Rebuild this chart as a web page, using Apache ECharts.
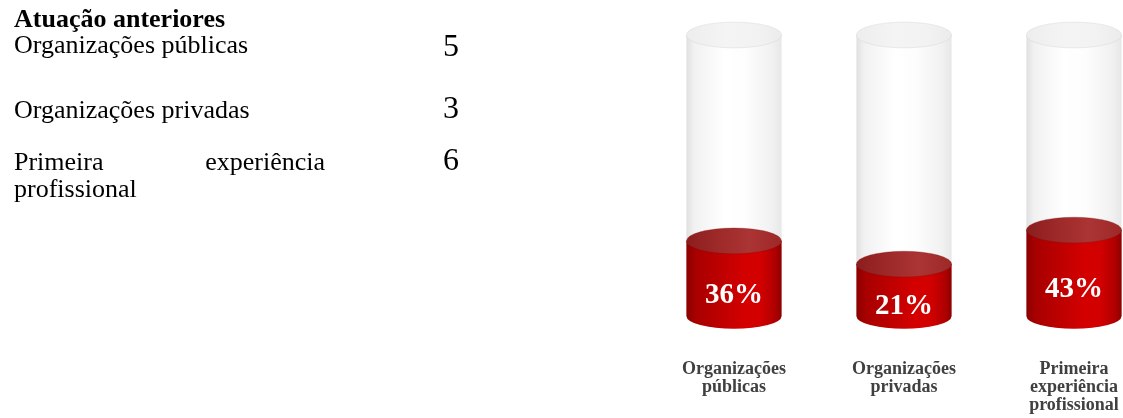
<!DOCTYPE html>
<html>
<head>
<meta charset="utf-8">
<script src="https://cdn.jsdelivr.net/npm/echarts@6/dist/echarts.min.js"></script>
<style>
  html, body { margin: 0; padding: 0; background: #ffffff; }
  #chart { width: 1123px; height: 418px; }
</style>
</head>
<body>
<div id="chart"></div>
<script>
// Share of previous work experience (percent of respondents)
const categories = ['Organizações\npúblicas', 'Organizações\nprivadas', 'Primeira\nexperiência\nprofissional'];
const shares = [36, 21, 43];

// Count table printed beside the chart
const tableTitle = 'Atuação anteriores';
const tableLabels = ['Organizações públicas', 'Organizações privadas', 'Primeira experiência profissional'];
const tableCounts = [5, 3, 6];

// Hidden value axis: the glass tubes span the whole range
const Y_MIN = -12.5;
const Y_MAX = 169;

const SERIF = '"Liberation Serif", "Times New Roman", serif';

// ---------- side table (justified text block) ----------
const TABLE_FONT = 26;
const COUNT_FONT = 32;
const colLeft = 14;
const colWidth = 311;
const countX = 451;
const titleBaseline = 29;
const rowBaselines = [55, 120, 172];
const wrapGap = 27;

const measureCtx = document.createElement('canvas').getContext('2d');
measureCtx.font = TABLE_FONT + 'px ' + SERIF;
const textWidth = s => measureCtx.measureText(s).width;

function wrapWords(text) {
  const lines = [];
  let cur = [];
  text.split(' ').forEach(w => {
    const trial = cur.concat(w).join(' ');
    if (cur.length && textWidth(trial) > colWidth) {
      lines.push(cur);
      cur = [w];
    } else {
      cur.push(w);
    }
  });
  if (cur.length) lines.push(cur);
  return lines;
}

// canvas 'middle' sits about 0.34em above the baseline for this face
const midFromBaseline = (baseline, size) => baseline - 0.3375 * size;

function textEl(str, x, baseline, size, weight, align) {
  return {
    type: 'text',
    silent: true,
    style: {
      text: str,
      x: x,
      y: midFromBaseline(baseline, size),
      align: align || 'left',
      verticalAlign: 'middle',
      fill: '#000000',
      font: (weight || 'normal') + ' ' + size + 'px ' + SERIF
    }
  };
}

const tableGraphics = [textEl(tableTitle, colLeft, titleBaseline, TABLE_FONT, 'bold')];
tableLabels.forEach((label, r) => {
  const lines = wrapWords(label);
  lines.forEach((words, li) => {
    const baseline = rowBaselines[r] + li * wrapGap;
    const isLast = li === lines.length - 1;
    if (isLast || words.length === 1) {
      tableGraphics.push(textEl(words.join(' '), colLeft, baseline, TABLE_FONT));
    } else {
      const widths = words.map(textWidth);
      const gap = (colWidth - widths.reduce((a, b) => a + b, 0)) / (words.length - 1);
      let x = colLeft;
      words.forEach((w, wi) => {
        tableGraphics.push(textEl(w, x, baseline, TABLE_FONT));
        x += widths[wi] + gap;
      });
    }
  });
  tableGraphics.push(textEl(String(tableCounts[r]), countX, rowBaselines[r] + 3 * (r === 0), COUNT_FONT, 'normal', 'center'));
});

// ---------- cylinder drawing ----------
const lg = (stops) => new echarts.graphic.LinearGradient(0, 0, 1, 0,
  stops.map(s => ({ offset: s[0], color: s[1] })));

function tubePath(cx, rx, ry, topY, botY) {
  return 'M' + (cx - rx) + ' ' + topY +
    ' L' + (cx - rx) + ' ' + botY +
    ' A' + rx + ' ' + ry + ' 0 0 0 ' + (cx + rx) + ' ' + botY +
    ' L' + (cx + rx) + ' ' + topY + ' Z';
}
function ellipsePath(cx, cy, rx, ry) {
  return 'M' + (cx - rx) + ' ' + cy +
    ' A' + rx + ' ' + ry + ' 0 1 0 ' + (cx + rx) + ' ' + cy +
    ' A' + rx + ' ' + ry + ' 0 1 0 ' + (cx - rx) + ' ' + cy + ' Z';
}

function renderCylinder(params, api) {
  const idx = api.value(0);
  const val = api.value(1);
  const base = api.coord([idx, Y_MIN]);
  const top = api.coord([idx, val]);
  const full = api.coord([idx, Y_MAX]);
  const cx = base[0];
  const rx = api.size([1, 0])[0] * 0.28;
  const ry = rx * 0.27;
  const botY = base[1];
  const topY = top[1];
  const fullY = full[1];

  return {
    type: 'group',
    children: [
      {
        type: 'path',
        shape: { pathData: tubePath(cx, rx, ry, fullY, botY) },
        style: {
          fill: lg([[0, '#e0e0e0'], [0.08, '#f1f1f1'], [0.4, '#ffffff'], [0.62, '#fdfdfd'], [0.9, '#f1f1f1'], [1, '#e7e7e7']])
        }
      },
      {
        type: 'path',
        shape: { pathData: tubePath(cx, rx, ry, topY, botY) },
        style: {
          fill: lg([[0, '#8c0000'], [0.1, '#a80000'], [0.35, '#bd0000'], [0.62, '#d40000'], [0.78, '#d20000'], [0.93, '#b00000'], [1, '#8e0000']])
        }
      },
      {
        type: 'path',
        shape: { pathData: ellipsePath(cx, topY, rx, ry) },
        style: {
          fill: lg([[0, '#8c1d1d'], [0.3, '#9c2828'], [0.65, '#ab3434'], [1, '#9e2828']]),
          stroke: 'rgba(120,10,10,0.3)',
          lineWidth: 1
        }
      },
      {
        type: 'path',
        shape: { pathData: ellipsePath(cx, fullY, rx, ry) },
        style: {
          fill: lg([[0, '#ededed'], [0.4, '#f4f4f4'], [0.75, '#f2f2f2'], [1, '#ebebeb']]),
          stroke: 'rgba(215,215,215,0.5)',
          lineWidth: 1
        }
      },
      {
        type: 'text',
        style: {
          text: val + '%',
          x: cx,
          y: (topY + botY) / 2 + ry * 1.3,
          align: 'center',
          verticalAlign: 'middle',
          fill: '#ffffff',
          font: 'bold 29px ' + SERIF,
          shadowColor: 'rgba(0,0,0,0.35)',
          shadowBlur: 2,
          shadowOffsetY: 1
        }
      }
    ]
  };
}

const chart = echarts.init(document.getElementById('chart'), null, { renderer: 'canvas' });
chart.setOption({
  animation: false,
  backgroundColor: '#ffffff',
  grid: { left: 649, width: 510, top: 35, height: 281, containLabel: false, outerBoundsMode: 'none' },
  xAxis: {
    type: 'category',
    data: categories,
    axisLine: { show: false },
    axisTick: { show: false },
    splitLine: { show: false },
    axisLabel: {
      margin: 44,
      interval: 0,
      color: '#404040',
      fontFamily: SERIF,
      fontWeight: 'bold',
      fontSize: 18,
      lineHeight: 18,
      align: 'center'
    }
  },
  yAxis: { type: 'value', min: Y_MIN, max: Y_MAX, show: false },
  series: [{
    type: 'custom',
    clip: false,
    data: shares.map((v, i) => [i, v]),
    renderItem: renderCylinder
  }],
  graphic: tableGraphics
});
</script>
</body>
</html>
